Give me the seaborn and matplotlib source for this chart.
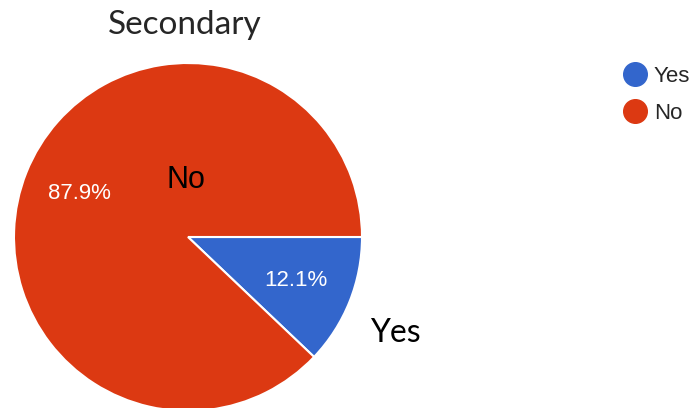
import matplotlib
matplotlib.use("Agg")
import matplotlib.pyplot as plt
from matplotlib.lines import Line2D
import seaborn as sns

# data
categories = ["Yes", "No"]
percents = [12.1, 87.9]
colors = ["#3366CC", "#DC3912"]
title = "Secondary"

sns.set_style("white")
plt.rcParams["font.family"] = ["Liberation Sans", "DejaVu Sans"]

W, H = 694, 408
fig = plt.figure(figsize=(W / 100, H / 100), dpi=100)

# pie centre (188, 237) px, radius 174 px
cx, cy, r = 188, 237, 174
ax = fig.add_axes([(cx - r) / W, (H - cy - r) / H, 2 * r / W, 2 * r / H])

wedges, texts, autotexts = ax.pie(
    percents,
    colors=colors,
    labels=categories,
    startangle=0,
    counterclock=False,
    autopct="%.1f%%",
    pctdistance=0.67,
    labeldistance=1.2,
    wedgeprops=dict(edgecolor="white", linewidth=1.5),
    textprops=dict(fontsize=16, color="white"),
)
ax.set_xlim(-1, 1)
ax.set_ylim(-1, 1)
ax.set_aspect("auto")
ax.axis("off")

# outer "Yes" label, calibri-ish
texts[0].set_color("black")
texts[0].set_fontsize(23)
texts[0].set_fontfamily("Lato")
texts[0].set_position((1.045, -0.55))
texts[0].set_ha("left")
texts[0].set_va("center")
# "No" sits near the middle of the pie in the reference
texts[1].set_color("black")
texts[1].set_fontsize(22)
texts[1].set_position((-0.01, 0.33))
texts[1].set_ha("center")
texts[1].set_va("center")

fig.text(185 / W, 1 - 25 / H, title, fontsize=24, family="Lato",
         ha="center", va="center")

handles = [
    Line2D([], [], marker="o", linestyle="", markersize=17,
           markerfacecolor=c, markeredgecolor=c)
    for c in colors
]
fig.legend(handles, categories, loc="upper left",
           bbox_to_anchor=(607 / W, 1 - 55 / H), frameon=False,
           fontsize=16, handletextpad=0.1, labelspacing=0.7,
           borderpad=0, handlelength=1.5)

fig.savefig("out.png", dpi=100)
